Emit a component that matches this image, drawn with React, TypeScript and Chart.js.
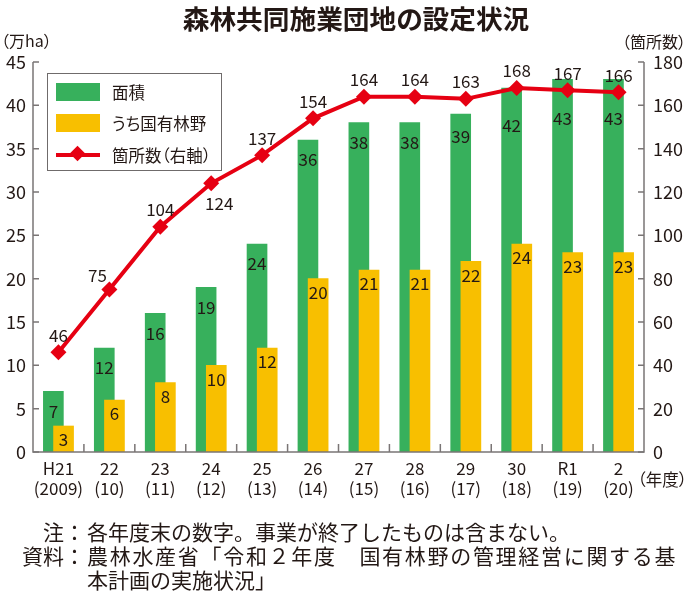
import React, { useEffect, useRef } from 'react';
import { Chart, registerables } from 'chart.js';

Chart.register(...registerables);

// ---- data ----
const yearLabels = ['H21', '22', '23', '24', '25', '26', '27', '28', '29', '30', 'R1', '2'];
const yearSubLabels = ['(2009)', '(10)', '(11)', '(12)', '(13)', '(14)', '(15)', '(16)', '(17)', '(18)', '(19)', '(20)'];
const areaTotal = [7, 12, 16, 19, 24, 36, 38, 38, 39, 42, 43, 43];
const areaNational = [3, 6, 8, 10, 12, 20, 21, 21, 22, 24, 23, 23];
const siteCount = [46, 75, 104, 124, 137, 154, 164, 164, 163, 168, 167, 166];

const GREEN = '#37b05c';
const ORANGE = '#f8bf00';
const RED = '#e60012';
const AXIS = '#7a7575';
const TEXT = '#231815';
const FONT = '"Noto Sans CJK JP", "Noto Sans", sans-serif';

const decorPlugin = {
  id: 'decor',
  afterDatasetsDraw(chart: any) {
    const { ctx, chartArea: a, scales } = chart;
    const x = scales.x;
    const y = scales.y;
    const y1 = scales.y1;
    ctx.save();
    ctx.strokeStyle = AXIS;
    ctx.lineWidth = 1.5;
    ctx.beginPath();
    ctx.moveTo(a.left, a.top);
    ctx.lineTo(a.left, a.bottom);
    ctx.lineTo(a.right, a.bottom);
    ctx.lineTo(a.right, a.top);
    ctx.stroke();
    ctx.beginPath();
    y.ticks.forEach((t: any) => {
      const py = y.getPixelForValue(t.value);
      ctx.moveTo(a.left, py);
      ctx.lineTo(a.left + 6, py);
    });
    y1.ticks.forEach((t: any) => {
      const py = y1.getPixelForValue(t.value);
      ctx.moveTo(a.right, py);
      ctx.lineTo(a.right - 6, py);
    });
    for (let i = 0; i < yearLabels.length - 1; i++) {
      const px = x.getPixelForValue(i + 0.5);
      ctx.moveTo(px, a.bottom);
      ctx.lineTo(px, a.bottom - 8);
    }
    ctx.stroke();

    // data labels
    ctx.fillStyle = TEXT;
    ctx.font = `17px ${FONT}`;
    ctx.textAlign = 'center';
    ctx.textBaseline = 'middle';
    const gMeta = chart.getDatasetMeta(0);
    const oMeta = chart.getDatasetMeta(1);
    const lMeta = chart.getDatasetMeta(2);
    gMeta.data.forEach((bar: any, i: number) => {
      const lineY = lMeta.data[i].y;
      const ly = Math.max(bar.y + 20, Math.min(lineY + 38, bar.y + 39));
      ctx.fillText(String(areaTotal[i]), bar.x, ly);
    });
    oMeta.data.forEach((bar: any, i: number) => {
      ctx.fillText(String(areaNational[i]), bar.x, bar.y + 14);
    });
    lMeta.data.forEach((pt: any, i: number) => {
      let dx = 0;
      let dy = -17;
      if (i === 1) { dx = -12; dy = -14; }
      if (i === 3) { dx = 8; dy = 20; }
      ctx.fillText(String(siteCount[i]), pt.x + dx, pt.y + dy);
    });
    ctx.restore();
  },
};

function ChartCanvas() {
  const ref = useRef<HTMLCanvasElement | null>(null);
  useEffect(() => {
    if (!ref.current) return;
    const chart = new Chart(ref.current, {
      type: 'bar',
      data: {
        datasets: [
          {
            type: 'bar',
            label: '面積',
            data: areaTotal.map((v, i) => ({ x: i - 0.1, y: v })),
            backgroundColor: GREEN,
            barThickness: 20,
            grouped: false,
            yAxisID: 'y',
            order: 3,
          } as any,
          {
            type: 'bar',
            label: 'うち国有林野',
            data: areaNational.map((v, i) => ({ x: i + 0.1, y: v })),
            backgroundColor: ORANGE,
            barThickness: 20,
            grouped: false,
            yAxisID: 'y',
            order: 2,
          } as any,
          {
            type: 'line',
            label: '箇所数（右軸）',
            data: siteCount.map((v, i) => ({ x: i, y: v })),
            borderColor: RED,
            backgroundColor: RED,
            borderWidth: 4,
            pointStyle: 'rectRot',
            pointRadius: 8,
            pointBorderWidth: 0,
            pointBackgroundColor: RED,
            tension: 0,
            yAxisID: 'y1',
            order: 1,
          } as any,
        ],
      },
      options: {
        responsive: false,
        animation: false,
        layout: { padding: { top: 62, left: 0, right: 0, bottom: 0 } },
        plugins: { legend: { display: false }, tooltip: { enabled: false } },
        scales: {
          x: {
            type: 'linear',
            offset: false,
            min: -0.5,
            max: 11.5,
            grid: { display: false, drawTicks: false, offset: false },
            border: { display: false },
            afterBuildTicks: (axis: any) => {
              axis.ticks = yearLabels.map((_, i) => ({ value: i }));
            },
            afterFit: (axis: any) => {
              axis.height = 611 - 452;
            },
            ticks: {
              autoSkip: false,
              maxRotation: 0,
              minRotation: 0,
              padding: 7,
              color: TEXT,
              font: { family: FONT, size: 17, lineHeight: 1.15 },
              callback: (v: any) => {
                const i = Math.round(Number(v));
                return [yearLabels[i], yearSubLabels[i]];
              },
            },
          },
          y: {
            type: 'linear',
            position: 'left',
            min: 0,
            max: 45,
            grid: { display: false, drawTicks: false },
            border: { display: false },
            afterFit: (axis: any) => {
              axis.width = 33;
            },
            ticks: {
              stepSize: 5,
              padding: 7,
              color: TEXT,
              font: { family: FONT, size: 18 },
            },
          },
          y1: {
            type: 'linear',
            position: 'right',
            min: 0,
            max: 180,
            grid: { display: false, drawTicks: false },
            border: { display: false },
            afterFit: (axis: any) => {
              axis.width = 689 - 644;
            },
            ticks: {
              stepSize: 20,
              padding: 9,
              color: TEXT,
              font: { family: FONT, size: 18 },
            },
          },
        },
      } as any,
      plugins: [decorPlugin],
    });
    return () => chart.destroy();
  }, []);
  return <canvas ref={ref} width={689} height={611} style={{ position: 'absolute', left: 0, top: 0, width: 689, height: 611 }} />;
}

export default function App() {
  const txt: React.CSSProperties = {
    position: 'absolute',
    fontFamily: FONT,
    color: TEXT,
    whiteSpace: 'nowrap',
    lineHeight: 1,
    fontFeatureSettings: '"palt"',
  };
  const note: React.CSSProperties = {
    position: 'absolute',
    fontFamily: FONT,
    color: TEXT,
    whiteSpace: 'nowrap',
    lineHeight: '24px',
    fontSize: 21,
    display: 'flex',
  };
  return (
    <div style={{ position: 'fixed', left: 0, top: 0, width: 689, height: 611, background: '#fff', overflow: 'hidden' }}>
      <ChartCanvas />
      <div style={{ ...txt, left: 182, top: 5, width: 348, textAlign: 'center', fontSize: 26.7, fontWeight: 700 }}>
        森林共同施業団地の設定状況
      </div>
      <div style={{ ...txt, left: 1, top: 32, fontSize: 16 }}>（万ha）</div>
      <div style={{ ...txt, right: 3, top: 33, fontSize: 16 }}>（箇所数）</div>
      <div style={{ ...txt, right: 2, top: 471, fontSize: 16.5 }}>（年度）</div>

      {/* legend */}
      <div style={{ position: 'absolute', left: 47, top: 73, width: 175, height: 98, border: '1.5px solid #6f6b6b', boxSizing: 'border-box' }} />
      <div style={{ position: 'absolute', left: 56, top: 83, width: 44, height: 18, background: GREEN }} />
      <div style={{ position: 'absolute', left: 56, top: 114, width: 44, height: 18, background: ORANGE }} />
      <div style={{ position: 'absolute', left: 56, top: 153, width: 44, height: 3.5, background: RED }} />
      <div style={{ position: 'absolute', left: 72, top: 148, width: 11, height: 11, background: RED, transform: 'rotate(45deg)' }} />
      <div style={{ ...txt, left: 112, top: 84, fontSize: 16.5 }}>面積</div>
      <div style={{ ...txt, left: 112, top: 115, fontSize: 16.5 }}>うち国有林野</div>
      <div style={{ ...txt, left: 112, top: 147, fontSize: 16.5 }}>箇所数（右軸）</div>

      {/* notes */}
      <div style={{ ...note, left: 0, top: 519 }}>
        <span style={{ width: 64, textAlign: 'right' }}>注</span>
        <span style={{ width: 23 }}>：</span>
        <span>各年度末の数字。事業が終了したものは含まない。</span>
      </div>
      <div style={{ ...note, left: 0, top: 543 }}>
        <span style={{ width: 64, textAlign: 'right' }}>資料</span>
        <span style={{ width: 23 }}>：</span>
        <span>
          <span style={{ letterSpacing: 1.7 }}>農林水産省「令和２年度　国有林野の管理経営に関する基</span>
          <br />
          本計画の実施状況」
        </span>
      </div>
    </div>
  );
}
